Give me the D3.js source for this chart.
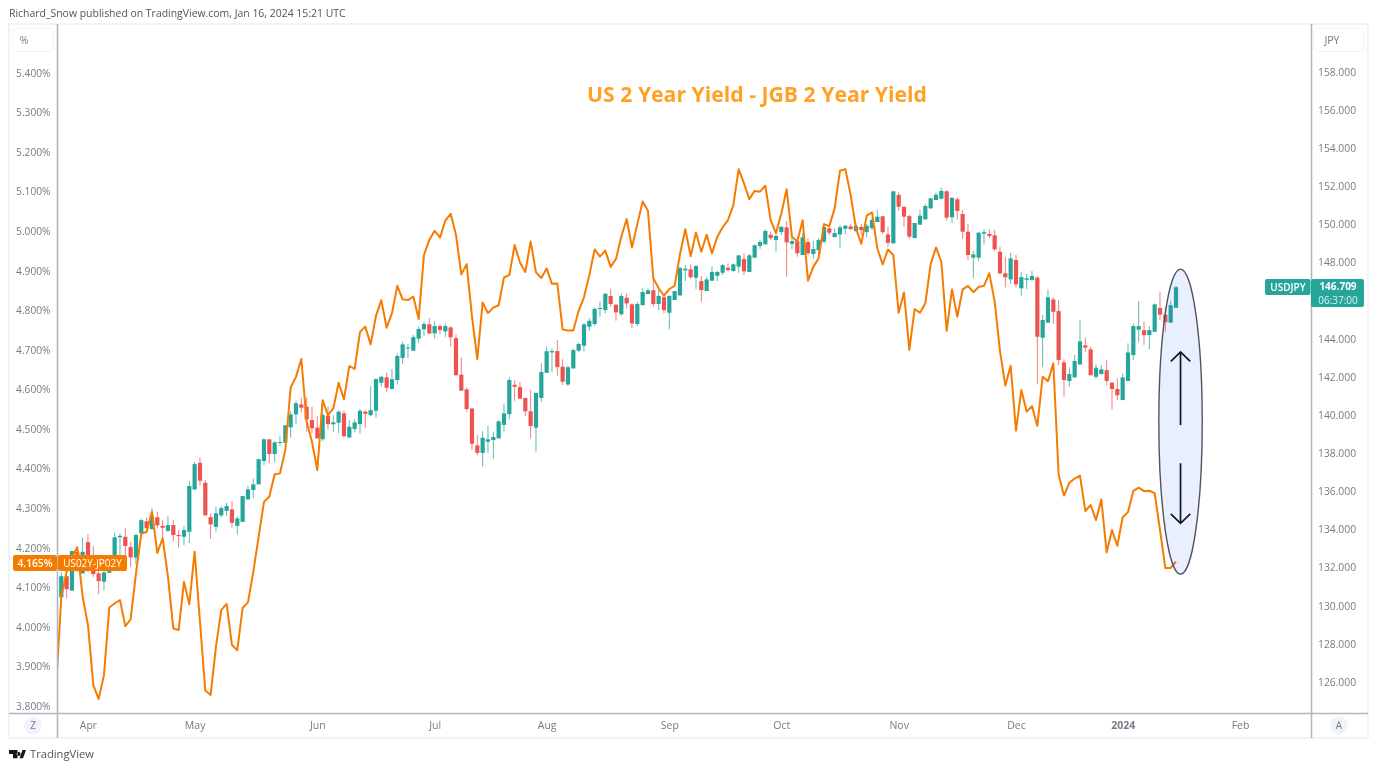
<!DOCTYPE html>
<html>
<head>
<meta charset="utf-8">
<script src="https://cdn.jsdelivr.net/npm/d3@7"></script>
<style>
html,body{margin:0;padding:0;background:#fff;overflow:hidden}
svg{display:block;filter:blur(0.35px)}
text{font-family:"Open Sans",sans-serif}
</style>
</head>
<body>
<div id="chart"></div>
<script>
const titleText = "US 2 Year Yield - JGB 2 Year Yield";
const headerText = "Richard_Snow published on TradingView.com, Jan 16, 2024 15:21 UTC";
const leftTicks = [3.8,3.9,4.0,4.1,4.2,4.3,4.4,4.5,4.6,4.7,4.8,4.9,5.0,5.1,5.2,5.3,5.4];
const rightTicks = [126,128,130,132,134,136,138,140,142,144,146,148,150,152,154,156,158];
const monthBars = [5,25,48,70,91,114,135,157,179,199,221];
const monthNames = ["Apr","May","Jun","Jul","Aug","Sep","Oct","Nov","Dec","2024","Feb"];
const lastPrice = 146.709;
const lastSpread = 4.165;
// Spread series: first value belongs to the bar just before the first visible candle
const spreadValues = [3.840,
4.076,4.139,4.177,4.201,4.076,4.005,3.853,3.818,3.878,4.049,
4.059,4.068,4.002,4.019,4.135,4.236,4.240,4.291,4.187,4.224,
4.127,3.996,3.992,4.114,4.057,4.190,4.013,3.839,3.828,3.950,
4.043,4.058,3.954,3.941,4.048,4.062,4.139,4.228,4.316,4.329,
4.386,4.388,4.447,4.605,4.632,4.677,4.519,4.468,4.396,4.573,
4.535,4.552,4.617,4.575,4.659,4.652,4.745,4.759,4.714,4.786,
4.826,4.756,4.793,4.862,4.828,4.826,4.835,4.778,4.940,4.978,
5.001,4.984,5.027,5.044,4.991,4.891,4.917,4.784,4.677,4.820,
4.793,4.807,4.813,4.883,4.889,4.965,4.921,4.897,4.974,4.896,
4.882,4.906,4.867,4.868,4.752,4.749,4.749,4.799,4.833,4.889,
4.954,4.936,4.951,4.910,4.930,4.986,5.031,4.959,5.018,5.075,
5.051,4.881,4.856,4.837,4.854,4.862,4.942,5.005,4.937,4.997,
4.948,4.991,4.944,4.986,5.010,5.028,5.066,5.157,5.121,5.081,
5.102,5.100,5.115,5.028,4.995,5.045,5.106,4.986,4.974,5.028,
4.875,4.910,4.932,5.018,5.013,5.058,5.153,5.157,5.092,5.007,
4.968,5.039,5.048,4.957,4.916,4.954,4.940,4.794,4.845,4.700,
4.803,4.794,4.818,4.917,4.959,4.923,4.748,4.853,4.784,4.853,
4.862,4.846,4.859,4.862,4.894,4.822,4.697,4.610,4.660,4.496,
4.599,4.544,4.558,4.508,4.632,4.621,4.666,4.384,4.332,4.364,
4.375,4.382,4.293,4.308,4.270,4.322,4.188,4.245,4.205,4.277,
4.290,4.344,4.352,4.343,4.344,4.338,4.245,4.149,4.149,4.165];
// USDJPY daily candles: [open, high, low, close]
const usdjpyBars = [
[130.44,131.78,130.44,131.55],[131.55,131.55,130.38,130.87],[130.79,132.87,130.79,132.87],[132.83,133.06,131.78,132.04],[131.70,133.59,131.70,132.83],
[133.34,133.76,131.78,132.04],[132.13,133.13,131.52,131.66],[131.70,131.87,130.61,131.29],[131.26,131.83,130.79,131.75],[131.73,132.29,131.73,132.19],
[132.13,133.85,131.96,133.59],[133.59,133.80,132.66,133.67],[133.62,134.06,132.66,133.13],[133.08,133.35,132.04,132.54],[132.52,133.80,132.19,133.71],
[133.80,134.58,133.76,134.49],[134.43,134.64,133.88,134.07],[134.02,135.14,134.01,134.70],[134.64,134.93,134.06,134.22],[134.19,134.49,133.53,134.09],
[133.93,134.70,133.88,134.23],[134.23,134.49,133.39,133.71],[133.71,133.97,133.04,133.65],[133.62,134.18,133.18,133.97],[133.88,136.55,133.30,136.28],
[136.10,137.55,136.10,137.43],[137.50,137.78,136.33,136.56],[136.45,136.59,134.74,134.74],[134.65,134.85,133.50,134.27],[134.14,135.19,133.88,134.85],
[134.74,135.24,134.64,135.12],[134.98,135.40,134.72,135.23],[135.05,135.48,134.11,134.35],[134.19,134.70,133.74,134.58],[134.40,135.75,134.40,135.75],
[135.58,136.29,135.54,136.10],[136.07,136.68,135.66,136.37],[136.37,137.73,136.37,137.69],[137.59,138.78,137.38,138.73],[138.73,138.74,137.47,137.96],
[137.96,138.65,137.52,138.57],[138.54,138.90,138.38,138.59],[138.55,139.46,138.55,139.46],[139.36,140.21,138.83,140.04],[140.04,140.75,139.53,140.62],
[140.56,140.93,140.14,140.39],[140.44,140.93,139.13,139.78],[139.74,140.44,139.04,139.31],[139.34,139.97,138.78,138.78],[138.74,140.09,138.65,140.00],
[139.97,140.44,139.25,139.53],[139.52,140.00,139.13,139.62],[139.60,140.26,139.07,140.18],[140.09,140.26,138.83,138.90],[138.83,139.74,138.78,139.39],
[139.27,139.79,139.09,139.62],[139.53,140.32,139.04,140.23],[140.18,140.26,139.31,140.07],[140.00,141.52,139.95,140.26],[140.23,141.93,139.86,141.89],
[141.70,142.07,141.49,142.01],[141.98,142.24,141.22,141.44],[141.37,142.42,141.35,141.88],[141.84,143.24,141.61,143.10],[143.00,143.85,142.68,143.71],
[143.50,143.73,142.98,143.55],[143.38,144.20,143.36,144.09],[144.01,144.64,143.77,144.52],[144.50,144.90,144.15,144.78],[144.76,145.09,144.24,144.29],
[144.29,144.92,144.01,144.67],[144.67,144.73,144.25,144.46],[144.39,144.81,144.11,144.67],[144.60,144.67,143.59,144.08],[144.04,144.24,142.09,142.09],
[142.12,143.03,141.28,141.28],[141.35,141.44,140.18,140.32],[140.35,140.35,138.17,138.50],[138.41,138.95,137.90,138.02],[138.02,139.16,137.29,138.81],
[138.60,139.43,138.02,138.73],[138.69,139.13,137.69,138.85],[138.78,139.74,138.78,139.67],[139.49,140.58,139.13,140.09],[140.05,141.98,139.78,141.84],
[141.59,141.84,140.75,141.49],[141.47,141.74,140.86,140.86],[140.90,140.90,139.95,140.20],[140.20,141.31,138.78,139.43],[139.34,141.17,138.08,141.17],
[140.90,142.72,140.70,142.26],[142.22,143.59,142.22,143.35],[143.29,143.50,142.26,143.36],[143.36,143.94,142.07,142.52],[142.54,142.93,141.58,141.75],
[141.61,142.59,141.52,142.51],[142.45,143.50,142.45,143.41],[143.38,143.80,143.32,143.73],[143.64,144.81,143.32,144.76],[144.64,145.08,144.41,144.95],
[144.78,145.65,144.67,145.57],[145.58,145.95,145.16,145.62],[145.51,146.39,145.34,146.37],[146.25,146.62,145.69,145.83],[145.79,145.86,144.95,145.39],
[145.29,146.39,145.21,146.25],[146.16,146.39,145.60,145.86],[145.81,145.86,144.58,144.81],[144.78,145.95,144.67,145.83],[145.77,146.65,145.77,146.46],
[146.35,146.65,146.35,146.55],[146.55,147.18,145.69,145.83],[145.83,146.56,145.51,146.25],[146.18,146.30,145.34,145.51],[145.37,146.26,144.50,146.26],
[146.04,146.51,146.04,146.51],[146.28,147.79,146.28,147.72],[147.59,147.87,147.03,147.68],[147.65,147.91,147.14,147.24],[147.21,147.87,146.62,147.82],
[147.03,147.30,145.95,146.56],[146.51,147.26,146.51,147.12],[147.05,147.79,147.05,147.51],[147.31,147.57,147.03,147.51],[147.47,147.93,147.35,147.87],
[147.73,147.93,147.57,147.61],[147.56,147.96,147.52,147.91],[147.79,148.41,147.47,148.38],[148.19,148.49,147.35,147.54],[147.51,148.45,147.51,148.38],
[148.26,148.96,148.26,148.91],[148.87,149.22,148.71,149.08],[148.96,149.75,148.96,149.66],[149.46,149.62,149.19,149.29],[149.19,149.45,148.57,149.40],
[149.60,149.92,149.45,149.88],[149.85,150.18,147.26,149.06],[148.98,149.33,148.71,149.13],[149.13,149.36,148.31,148.49],[148.40,149.54,148.40,149.33],
[149.08,149.28,148.40,148.49],[148.45,149.15,148.22,148.71],[148.66,149.28,148.19,149.19],[149.10,149.92,149.01,149.87],[149.80,149.85,149.45,149.57],
[149.34,149.80,149.34,149.55],[149.48,149.97,148.78,149.85],[149.78,149.97,149.50,149.94],[149.90,150.03,149.71,149.76],[149.66,150.06,149.57,149.92],
[149.87,150.03,149.45,149.71],[149.60,150.03,149.33,149.94],[149.81,150.32,149.71,150.24],[150.13,150.76,150.13,150.41],[150.43,150.43,149.50,149.60],
[149.48,149.88,148.83,149.04],[149.01,151.74,149.01,151.74],[151.55,151.69,150.71,150.93],[150.93,150.93,149.88,150.41],[150.44,150.50,149.24,149.36],
[149.29,150.08,149.29,150.08],[149.99,150.76,149.99,150.46],[150.27,151.07,150.27,150.97],[150.85,151.40,150.80,151.37],[151.28,151.67,151.28,151.56],
[151.35,151.93,151.32,151.76],[151.74,151.81,150.20,150.36],[150.38,151.43,150.09,151.40],[151.32,151.43,150.27,150.71],[150.55,150.76,149.24,149.62],
[149.62,150.03,148.14,148.40],[148.26,148.62,147.18,148.43],[148.26,149.62,148.08,149.57],[149.52,149.75,148.96,149.60],[149.50,149.76,149.28,149.40],
[149.43,149.71,148.61,148.70],[148.57,148.83,147.35,147.44],[147.44,148.31,146.70,147.23],[147.12,148.52,146.88,148.22],[148.14,148.40,146.70,146.86],
[146.65,147.49,146.26,147.24],[147.10,147.40,146.62,147.18],[147.09,147.56,147.03,147.30],[147.21,147.30,141.61,144.11],[144.06,145.25,142.51,144.99],
[144.85,146.60,144.85,146.18],[146.07,146.18,144.78,145.42],[145.46,146.04,142.63,142.89],[142.77,142.93,140.96,141.84],[141.79,142.51,141.49,142.15],
[141.98,143.15,141.98,142.84],[142.66,144.99,142.66,143.87],[143.66,144.08,143.32,143.54],[143.45,143.59,142.09,142.09],[142.01,142.66,141.89,142.49],
[142.15,142.63,142.15,142.40],[142.36,142.89,141.58,141.79],[141.70,141.74,140.30,141.37],[141.37,141.93,140.79,141.04],[140.79,142.19,140.79,141.98],
[141.79,143.77,141.79,143.29],[143.15,144.81,142.89,144.67],[144.48,145.99,143.85,144.67],[144.46,144.92,143.68,144.20],[144.20,144.67,143.45,144.46],
[144.37,145.86,144.37,145.81],[145.62,146.47,144.99,145.27],[145.27,145.65,144.37,144.87],[144.85,145.99,144.85,145.77],[145.63,146.79,145.63,146.709]
];

const W = 1377, H = 770;
const plot = {left:57.5, right:1311.5, top:24, bottom:713.5};
const GREEN = "#26a69a", RED = "#ef5350", ORANGE = "#f57c00", AXIS = "#b2b5be", BORDER = "#f0f3fa", TEXT = "#787b86";

const svg = d3.select("#chart").append("svg").attr("width",W).attr("height",H).attr("viewBox",`0 0 ${W} ${H}`);

const x = d3.scaleLinear().domain([0,209]).range([61.3,1176]);
const yL = d3.scaleLinear().domain([3.8,5.4]).range([706,73]);
const yR = d3.scaleLinear().domain([126,158]).range([682,72]);

// Frame
svg.append("rect").attr("x",9).attr("y",24).attr("width",1359).attr("height",714).attr("fill","#fff").attr("stroke",BORDER).attr("stroke-width",2);

svg.append("text").attr("x",9).attr("y",17).attr("font-size",10.45).attr("fill","#50535e").text(headerText);

svg.append("defs").append("clipPath").attr("id","plotClip").append("rect")
  .attr("x",plot.left).attr("y",plot.top).attr("width",plot.right-plot.left).attr("height",plot.bottom-plot.top);
const g = svg.append("g").attr("clip-path","url(#plotClip)");

// Candles
const candle = g.append("g").selectAll("g").data(usdjpyBars).join("g");
candle.append("line")
  .attr("x1",(d,i)=>x(i)).attr("x2",(d,i)=>x(i))
  .attr("y1",d=>yR(d[1])).attr("y2",d=>yR(d[2]))
  .attr("stroke",d=>d[3]>=d[0]?GREEN:RED).attr("stroke-width",1).attr("stroke-opacity",0.75);
candle.append("rect")
  .attr("x",(d,i)=>x(i)-2.1).attr("width",4.2)
  .attr("y",d=>yR(Math.max(d[0],d[3])))
  .attr("height",d=>Math.max(1,Math.abs(yR(d[0])-yR(d[3]))))
  .attr("fill",d=>d[3]>=d[0]?GREEN:RED);

// Spread line
const line = d3.line().x((d,i)=>x(i-1)).y(d=>yL(d));
g.append("path").datum(spreadValues).attr("d",line).attr("fill","none").attr("stroke",ORANGE).attr("stroke-width",2).attr("stroke-linejoin","round");

// Ellipse with arrows
const ellipseTop = 147.66, ellipseBottom = 131.65;
const cxIdx = 209.85, rxBars = 4.07;
g.append("ellipse").attr("cx",x(cxIdx)).attr("cy",(yR(ellipseTop)+yR(ellipseBottom))/2)
  .attr("rx",x(cxIdx+rxBars)-x(cxIdx)).attr("ry",(yR(ellipseBottom)-yR(ellipseTop))/2)
  .attr("fill","rgba(41,98,255,0.1)").attr("stroke","#50535e").attr("stroke-width",1.4);
const arrows = [[139.48,143.32],[137.47,134.32]];
const arrowG = g.append("g").attr("fill","none").attr("stroke","#131722").attr("stroke-width",1.7);
arrows.forEach(a=>{
  const ax = x(cxIdx), y0 = yR(a[0]), y1 = yR(a[1]), s = y1<y0?1:-1;
  arrowG.append("path").attr("d",`M${ax},${y0}L${ax},${y1}M${ax-9.7},${y1+s*9.5}L${ax},${y1}L${ax+9.7},${y1+s*9.5}`);
});

// Title
svg.append("text").attr("x",757).attr("y",101.5).attr("text-anchor","middle").attr("font-size",21.2).attr("font-weight",700).attr("fill","#ffa126").text(titleText);

// Axis lines
svg.append("line").attr("x1",57.5).attr("x2",57.5).attr("y1",24).attr("y2",738).attr("stroke",AXIS).attr("stroke-width",1.6);
svg.append("line").attr("x1",1311.5).attr("x2",1311.5).attr("y1",24).attr("y2",738).attr("stroke",AXIS).attr("stroke-width",1.6);
svg.append("line").attr("x1",9).attr("x2",1368).attr("y1",713.5).attr("y2",713.5).attr("stroke",AXIS).attr("stroke-width",1.4);

function styleAxis(sel){
  sel.select(".domain").remove();
  sel.selectAll(".tick line").remove();
  sel.selectAll("text").attr("fill",TEXT).style("font-family",'"Open Sans",sans-serif');
}
svg.append("g").attr("transform","translate(50.5,0)")
  .call(d3.axisLeft(yL).tickValues(leftTicks).tickSize(0).tickPadding(0).tickFormat(d=>d.toFixed(3)+"%"))
  .attr("font-size",10.2).call(styleAxis);
svg.append("g").attr("transform","translate(1318,0)")
  .call(d3.axisRight(yR).tickValues(rightTicks).tickSize(0).tickPadding(0).tickFormat(d=>d.toFixed(3)))
  .attr("font-size",10.3).call(styleAxis);
const xAxis = svg.append("g").attr("transform","translate(0,722)")
  .call(d3.axisBottom(x).tickValues(monthBars).tickSize(0).tickPadding(0).tickFormat((d,i)=>monthNames[i]))
  .attr("font-size",10.5).call(styleAxis);
xAxis.selectAll("text").filter(d=>d===199).attr("font-weight",700);

// Unit boxes
[[13,"%"],[1314,"JPY"]].forEach(([bx,t])=>{
  svg.append("rect").attr("x",bx).attr("y",28.5).attr("width",bx===13?40:50).attr("height",23).attr("rx",4)
    .attr("fill","#fff").attr("stroke",BORDER).attr("stroke-width",1.2);
});
svg.append("text").attr("x",24).attr("y",44).attr("text-anchor","middle").attr("font-size",10.5).attr("fill",TEXT).text("%");
svg.append("text").attr("x",1332).attr("y",44).attr("text-anchor","middle").attr("font-size",10.5).attr("fill",TEXT).text("JPY");

// Corner buttons
[[33,"Z"],[1339,"A"]].forEach(([cx,t])=>{
  svg.append("circle").attr("cx",cx).attr("cy",725.5).attr("r",9).attr("fill",BORDER);
  svg.append("text").attr("x",cx).attr("y",729).attr("text-anchor","middle").attr("font-size",10).attr("fill",TEXT).text(t);
});

// Orange spread labels
svg.append("rect").attr("x",13).attr("y",555).attr("width",44).attr("height",16).attr("rx",2).attr("fill",ORANGE);
svg.append("text").attr("x",35).attr("y",566.5).attr("text-anchor","middle").attr("font-size",10.2).attr("font-weight",600).attr("fill","#fff").text(lastSpread.toFixed(3)+"%");
svg.append("rect").attr("x",58).attr("y",555).attr("width",69).attr("height",16).attr("rx",2).attr("fill",ORANGE);
svg.append("text").attr("x",92.5).attr("y",566.5).attr("text-anchor","middle").attr("font-size",10).attr("fill","#fff").text("US02Y-JP02Y");

// Teal price labels
svg.append("rect").attr("x",1265).attr("y",279).attr("width",45.5).attr("height",16).attr("rx",2).attr("fill",GREEN);
svg.append("text").attr("x",1288).attr("y",290.5).attr("text-anchor","middle").attr("font-size",10).attr("font-weight",600).attr("fill","#fff").text("USDJPY");
svg.append("rect").attr("x",1311).attr("y",279).attr("width",53).attr("height",28).attr("rx",2).attr("fill",GREEN);
svg.append("text").attr("x",1338).attr("y",290).attr("text-anchor","middle").attr("font-size",10).attr("font-weight",700).attr("fill","#fff").text(lastPrice.toFixed(3));
svg.append("text").attr("x",1338).attr("y",304).attr("text-anchor","middle").attr("font-size",10).attr("fill","#fff").attr("fill-opacity",0.85).text("06:37:00");

// TradingView logo
svg.append("path").attr("fill","#131722").attr("d","M9,750H17.5V758.3H13V754H9Z M18.6,752a2,2 0 1 0 0.01,0Z M19.5,758.3L22.5,750H26L23,758.3Z");
svg.append("text").attr("x",30).attr("y",758).attr("font-size",11.2).attr("fill","#50535e").text("TradingView");
</script>
</body>
</html>
